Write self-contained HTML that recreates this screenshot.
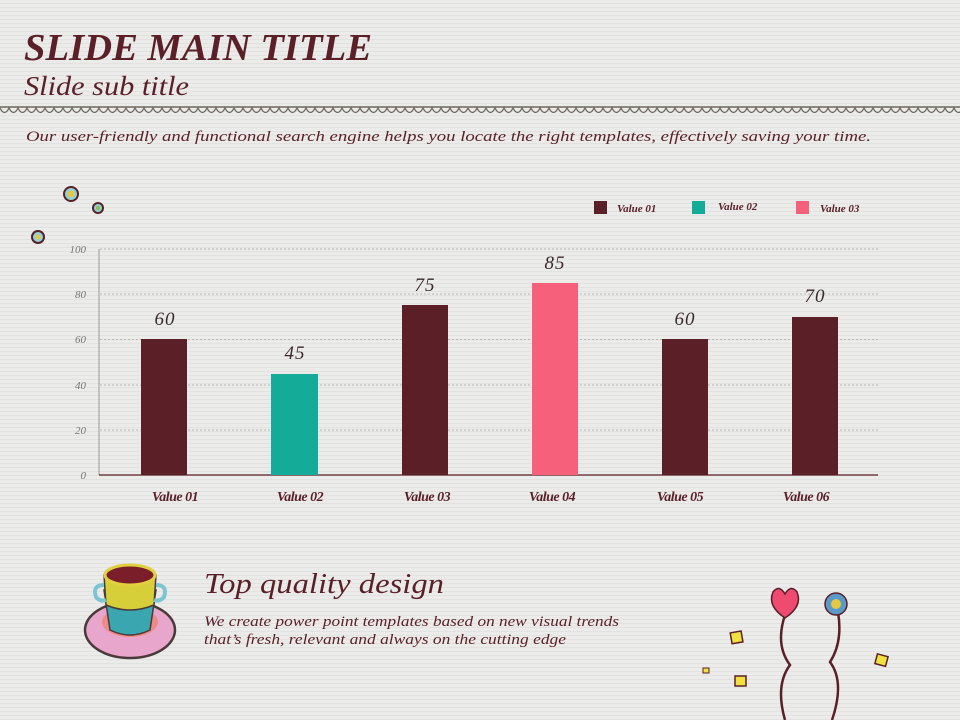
<!DOCTYPE html>
<html><head><meta charset="utf-8"><style>
body{margin:0;width:960px;height:720px;overflow:hidden;background:#e9e9e8;font-family:"Liberation Serif",serif;}
</style></head><body>
<svg width="960" height="720" xmlns="http://www.w3.org/2000/svg" style="position:absolute;left:0;top:0">
<defs><pattern id="ln" width="6" height="4" patternUnits="userSpaceOnUse"><rect width="6" height="4" fill="#ebebea"/><rect y="3" width="6" height="1" fill="#e2e2e1"/></pattern></defs>
<rect width="960" height="720" fill="url(#ln)"/>
<text x="24" y="60" font-size="38" font-weight="bold" font-style="italic" fill="#5a1f27" textLength="348" lengthAdjust="spacingAndGlyphs">SLIDE MAIN TITLE</text>
<text x="24" y="95" font-size="27" font-style="italic" fill="#5a1f27" textLength="165" lengthAdjust="spacingAndGlyphs">Slide sub title</text>
<line x1="0" y1="107" x2="960" y2="107" stroke="#6e6660" stroke-width="1.5"/>
<path id="sc" d="M0 108 q4.5 9 9 0 q4.5 9 9 0 q4.5 9 9 0 q4.5 9 9 0 q4.5 9 9 0 q4.5 9 9 0 q4.5 9 9 0 q4.5 9 9 0 q4.5 9 9 0 q4.5 9 9 0 q4.5 9 9 0 q4.5 9 9 0 q4.5 9 9 0 q4.5 9 9 0 q4.5 9 9 0 q4.5 9 9 0 q4.5 9 9 0 q4.5 9 9 0 q4.5 9 9 0 q4.5 9 9 0 q4.5 9 9 0 q4.5 9 9 0 q4.5 9 9 0 q4.5 9 9 0 q4.5 9 9 0 q4.5 9 9 0" fill="none" stroke="#6e6660" stroke-width="1.3"/>
<use href="#sc" x="234"/><use href="#sc" x="468"/><use href="#sc" x="702"/><use href="#sc" x="936"/>
<text x="26" y="141" font-size="15" font-style="italic" fill="#5a1f27" textLength="845" lengthAdjust="spacingAndGlyphs">Our user-friendly and functional  search engine helps you locate the right templates, effectively saving your time.</text>
<circle cx="71" cy="194" r="8" fill="#5a1f27"/><circle cx="71" cy="194" r="6" fill="#8fd3d8"/><circle cx="71" cy="194" r="3.5" fill="#e8c840"/>
<circle cx="98" cy="208" r="6" fill="#5a1f27"/><circle cx="98" cy="208" r="4" fill="#8fd3d8"/><circle cx="98" cy="208" r="2" fill="#8cbf40"/>
<circle cx="38" cy="237" r="7" fill="#5a1f27"/><circle cx="38" cy="237" r="5" fill="#8fd3d8"/><circle cx="38" cy="237" r="2.5" fill="#e8c840"/>
<g stroke="#b9b9b9" stroke-dasharray="2,2" stroke-width="1">
<line x1="100" y1="249" x2="878" y2="249"/><line x1="100" y1="294" x2="878" y2="294"/><line x1="100" y1="339.5" x2="878" y2="339.5"/><line x1="100" y1="385" x2="878" y2="385"/><line x1="100" y1="430" x2="878" y2="430"/>
</g>
<line x1="99" y1="249" x2="99" y2="475" stroke="#9a9a9a"/>
<line x1="99" y1="475" x2="878" y2="475" stroke="#5a1f27" stroke-width="1.2"/>
<g font-size="11" font-style="italic" fill="#777" text-anchor="end">
<text x="86" y="253">100</text><text x="86" y="298">80</text><text x="86" y="343">60</text><text x="86" y="389">40</text><text x="86" y="434">20</text><text x="86" y="479">0</text></g>
<rect x="141" y="339" width="46" height="136" fill="#5a1f27"/>
<rect x="271" y="374" width="47" height="101" fill="#14ab98"/>
<rect x="402" y="305" width="46" height="170" fill="#5a1f27"/>
<rect x="532" y="283" width="46" height="192" fill="#f7607a"/>
<rect x="662" y="339" width="46" height="136" fill="#5a1f27"/>
<rect x="792" y="317" width="46" height="158" fill="#5a1f27"/>
<g font-size="19" font-style="italic" fill="#3a2a2a" text-anchor="middle" letter-spacing="1">
<text x="165" y="325">60</text><text x="295" y="359">45</text><text x="425" y="291">75</text><text x="555" y="269">85</text><text x="685" y="325">60</text><text x="815" y="302">70</text></g>
<g font-size="14" font-weight="bold" font-style="italic" fill="#5a1f27" text-anchor="middle" letter-spacing="-0.5">
<text x="175" y="501">Value 01</text><text x="300" y="501">Value 02</text><text x="427" y="501">Value 03</text><text x="552" y="501">Value 04</text><text x="680" y="501">Value 05</text><text x="806" y="501">Value 06</text></g>
<rect x="594" y="201" width="13" height="13" fill="#5a1f27"/><rect x="692" y="201" width="13" height="13" fill="#14ab98"/><rect x="796" y="201" width="13" height="13" fill="#f7607a"/>
<g font-size="11" font-weight="bold" font-style="italic" fill="#5a1f27"><text x="617" y="212">Value 01</text><text x="718" y="210">Value 02</text><text x="820" y="212">Value 03</text></g>
<ellipse cx="130" cy="630" rx="45" ry="28" fill="#e9a6cc" stroke="#4a3a3a" stroke-width="2.5"/>
<ellipse cx="130" cy="622" rx="28" ry="15" fill="#ef8a86"/>
<path d="M104 590 L156 590 L150 630 Q130 640 110 630 Z" fill="#3aa6b0" stroke="#4a3a3a" stroke-width="1.5"/>
<path d="M104 575 L156 575 L154 605 Q130 615 106 605 Z" fill="#d6cf3a" stroke="#4a3a3a" stroke-width="1.5"/>
<ellipse cx="130" cy="575" rx="25" ry="10" fill="#7a1e2a" stroke="#e0d040" stroke-width="3"/>
<path d="M104 585 q-12 0 -8 12 q4 5 10 3" fill="none" stroke="#7cc4d4" stroke-width="4"/>
<path d="M156 585 q12 0 8 12 q-4 5 -10 3" fill="none" stroke="#7cc4d4" stroke-width="4"/>
<text x="204" y="593" font-size="28" font-style="italic" fill="#5a1f27" textLength="240" lengthAdjust="spacingAndGlyphs">Top quality design</text>
<text x="204" y="626" font-size="15" font-style="italic" fill="#5a1f27" textLength="415" lengthAdjust="spacingAndGlyphs">We create power point templates based on new visual trends</text>
<text x="204" y="644" font-size="15" font-style="italic" fill="#5a1f27" textLength="362" lengthAdjust="spacingAndGlyphs">that’s fresh, relevant and always on the cutting edge</text>
<path d="M785 615 q-10 30 5 50 q-15 20 -5 55" fill="none" stroke="#5a1f27" stroke-width="2.5"/>
<path d="M838 612 q5 30 -8 50 q15 20 2 58" fill="none" stroke="#5a1f27" stroke-width="2.5"/>
<path d="M785 618 q-18 -12 -12 -26 q6 -8 12 2 q6 -10 12 -2 q6 14 -12 26z" fill="#ef4b70" stroke="#5a1f27" stroke-width="1.5"/>
<circle cx="836" cy="604" r="11" fill="#5a9ac8" stroke="#5a1f27" stroke-width="1.5"/><circle cx="836" cy="604" r="5" fill="#e8c840"/>
<rect x="731" y="632" width="11" height="11" fill="#f0e040" stroke="#5a1f27" stroke-width="1.5" transform="rotate(-10 736 637)"/>
<rect x="876" y="655" width="11" height="10" fill="#f0e040" stroke="#5a1f27" stroke-width="1.5" transform="rotate(15 881 660)"/>
<rect x="735" y="676" width="11" height="10" fill="#f0e040" stroke="#5a1f27" stroke-width="1.5"/>
<rect x="703" y="668" width="6" height="5" fill="#f0e040" stroke="#5a1f27" stroke-width="1"/>
</svg>
</body></html>
